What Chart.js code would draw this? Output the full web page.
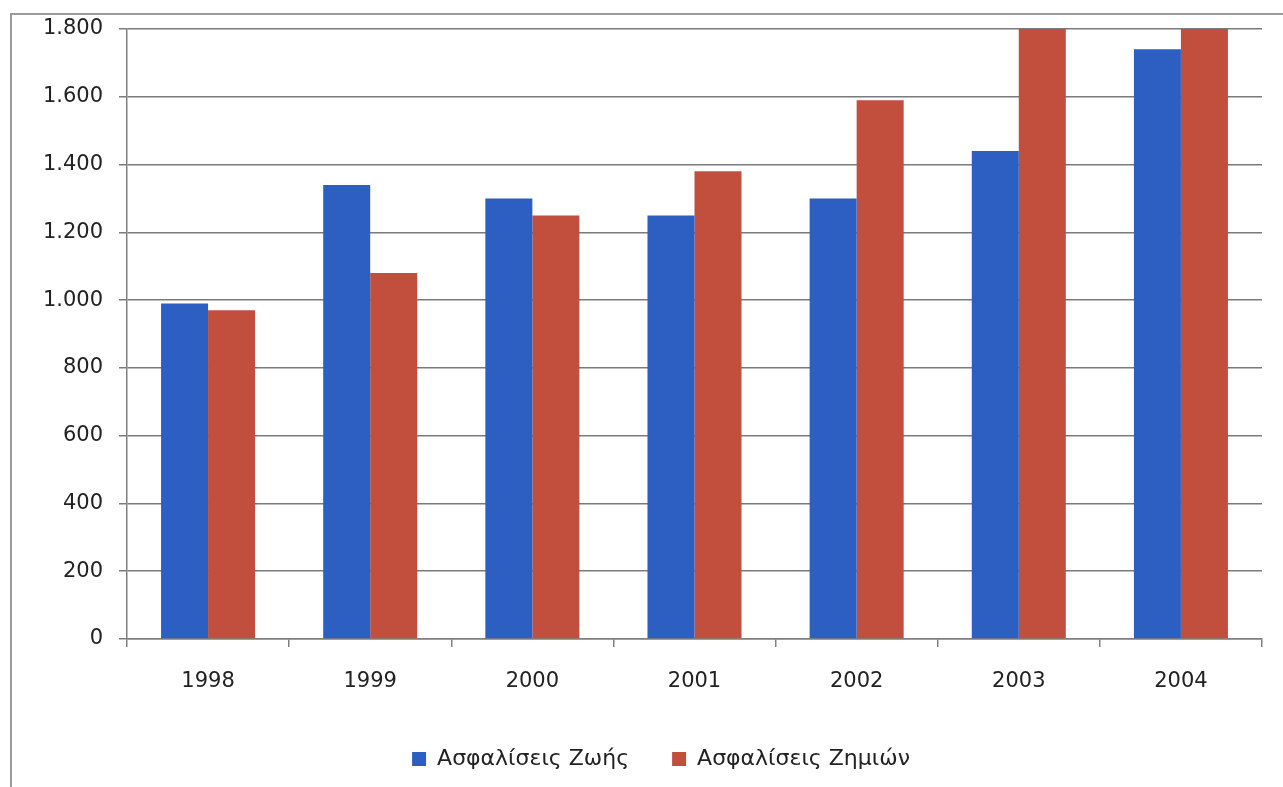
<!DOCTYPE html>
<html>
<head>
<meta charset="utf-8">
<script src="https://cdn.jsdelivr.net/npm/chart.js@4/dist/chart.umd.min.js"></script>
<style>
  html, body { margin: 0; padding: 0; background: #fff; }
  #wrap { position: relative; width: 1283px; height: 787px; overflow: hidden; }
  #frame { position: absolute; left: 10px; top: 13px; width: 1300px; height: 800px;
           border-left: 2px solid #9a9a9a; border-top: 2px solid #9a9a9a; }
  canvas { position: absolute; left: 0; top: 0; }
</style>
</head>
<body>
<div id="wrap">
  <div id="frame"></div>
  <canvas id="chart" width="1283" height="787"></canvas>
</div>
<script>
// data
const years = ["1998", "1999", "2000", "2001", "2002", "2003", "2004"];
const life = [990, 1340, 1300, 1250, 1300, 1440, 1740];       // Ασφαλίσεις Ζωής
const damages = [970, 1080, 1250, 1380, 1590, 1800, 1800];    // Ασφαλίσεις Ζημιών
const seriesNames = ["Ασφαλίσεις Ζωής", "Ασφαλίσεις Ζημιών"];
const yMax = 1800;
const yStep = 200;

const FONT = "DejaVu Sans";

function dotThousands(v) {
    return String(v).replace(/\B(?=(\d{3})+(?!\d))/g, ".");
}

// legend sits a bit right of the canvas centre in the original
const legendShift = {
    id: "legendShift",
    afterLayout(chart) {
        const lg = chart.legend;
        if (!lg) return;
        lg.left += 30;
        lg.right += 30;
    }
};

new Chart("chart", {
    type: "bar",
    data: {
        labels: years,
        datasets: [{
            label: seriesNames[0],
            data: life,
            backgroundColor: "#2d5ec1",
            categoryPercentage: 0.58,
            barPercentage: 1.0
        }, {
            label: seriesNames[1],
            data: damages,
            backgroundColor: "#c24f3e",
            categoryPercentage: 0.58,
            barPercentage: 1.0
        }]
    },
    plugins: [legendShift],
    options: {
        responsive: false,
        animation: false,
        layout: { padding: { left: 0, top: 29, right: 21, bottom: 7 } },
        plugins: {
            tooltip: { enabled: false },
            legend: {
                position: "bottom",
                labels: {
                    font: { family: FONT, size: 22 },
                    color: "#222",
                    boxWidth: 14,
                    boxHeight: 14,
                    padding: 43
                }
            }
        },
        scales: {
            x: {
                grid: { offset: true, drawOnChartArea: false, drawTicks: true, tickLength: 8, color: "#808080", lineWidth: 1.5 },
                border: { color: "#808080", width: 1.5 },
                ticks: { font: { family: FONT, size: 21 }, color: "#222", padding: 22 },
                afterFit: function (scale) { scale.height = 66; }
            },
            y: {
                min: 0,
                max: yMax,
                ticks: {
                    stepSize: yStep,
                    font: { family: FONT, size: 21 },
                    color: "#222",
                    padding: 16,
                    callback: function (v) { return dotThousands(v); }
                },
                grid: { color: "#7a7a7a", lineWidth: 1.5, tickLength: 8 },
                border: { color: "#808080", width: 1.5 },
                afterFit: function (scale) { scale.width = 127; }
            }
        }
    }
});
</script>
</body>
</html>
